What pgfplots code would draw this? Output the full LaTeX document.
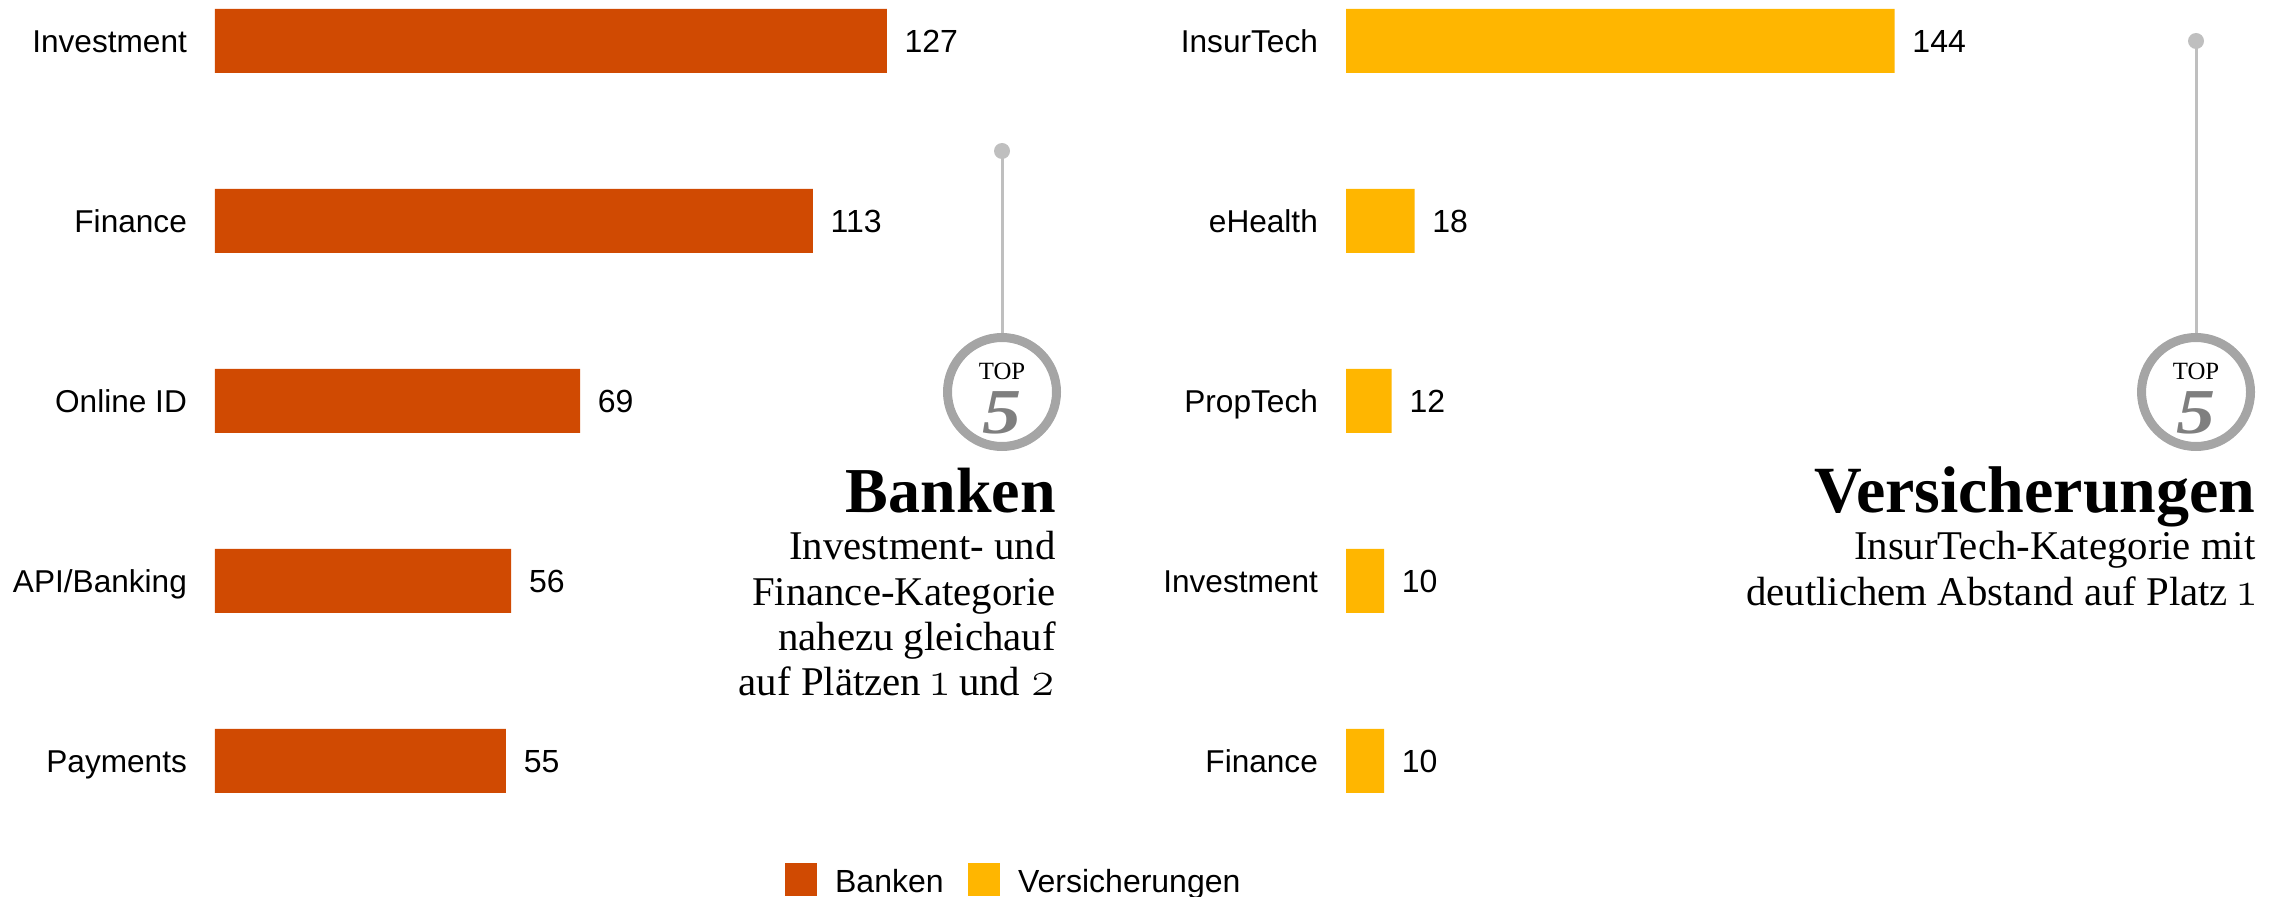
\documentclass[border=0pt]{standalone}
\usepackage{pgfplots}
\usepackage{fontspec}
\pgfplotsset{compat=1.18}
\setmainfont{Liberation Sans}
\newfontfamily\srf{Liberation Serif}
\newfontfamily\osn[Numbers=OldStyle,Scale=1.18]{Latin Modern Roman}
\definecolor{bank}{HTML}{D04A02}
\definecolor{vers}{HTML}{FFB600}
\definecolor{ringc}{HTML}{A5A5A5}
\definecolor{pinc}{HTML}{BFBFBF}
\definecolor{fivec}{HTML}{7F7F7F}
\pgfplotstableread{
y v
0 127
1 113
2 69
3 56
4 55
}\banken
\pgfplotstableread{
y v
0 144
1 18
2 12
3 10
4 10
}\versich
\pgfplotsset{
  panel/.style={
    anchor=north west, clip=false, xbar, bar width=32pt, bar shift=0pt, y=90pt,
    xmin=0, ymin=-0.2, ymax=4.2, y dir=reverse,
    axis line style={draw=none}, tick style={draw=none},
    xtick=\empty, ytick={0,1,2,3,4},
    y tick label style={font=\fontsize{15.8}{18}\selectfont, inner sep=0pt, xshift=-9.6pt, anchor=east, text height=11.4pt, text depth=0pt},
    nodes near coords,
    nodes near coords align={horizontal},
    every node near coord/.append style={font=\fontsize{16}{18}\selectfont, inner sep=0pt, xshift=8.7pt, yshift=-0.3pt, text=black, /pgf/number format/assume math mode=true},
  }
}
\newcommand{\five}{\scalebox{1.22}[1]{5}}
\begin{document}
\begin{tikzpicture}[x=0.5pt,y=0.5pt]
\path[use as bounding box] (0,0) rectangle (2285,896);
\begin{axis}[panel, at={(107.5pt,445.6pt)}, x=2.645pt, xmax=150,
  yticklabels={Investment,Finance,Online ID,API/Banking,Payments},
  legend columns=2,
  legend style={at={(0.7185,-0.1293)}, anchor=south west, draw=none, fill=none, inner sep=0pt, outer sep=0pt,
    font=\fontsize{16}{18}\selectfont,
    /tikz/every odd column/.style={column sep=7.1pt},
    /tikz/every even column/.style={column sep=10.2pt}},
  legend image code/.code={\fill[#1] (0pt,-6.5pt) rectangle (15.5pt,9.5pt);},
]
\addplot[forget plot, draw=none, fill=bank] table[x=v,y=y] {\banken};
\addlegendimage{bank}\addlegendentry{Banken}
\addlegendimage{vers}\addlegendentry{Versicherungen}
\end{axis}
\begin{axis}[panel, at={(673pt,445.6pt)}, x=1.905pt, xmax=150,
  yticklabels={InsurTech,eHealth,PropTech,Investment,Finance},
]
\addplot[forget plot, draw=none, fill=vers] table[x=v,y=y] {\versich};
\end{axis}
% left annotation
\draw[pinc, line width=1.5pt] (1002,745) -- (1002,562);
\fill[pinc] (1002,745) circle (8);
\draw[ringc, line width=4.5pt] (1002,504) circle (54.5);
\node[font=\srf\fontsize{12.4}{14}\selectfont, inner sep=0pt] at (1002,525) {TOP};
\node[font=\srf\bfseries\itshape\fontsize{32}{36}\selectfont, text=fivec, inner sep=0pt, anchor=base] at (1002,463) {\five};
\node[font=\srf\bfseries\fontsize{32}{36}\selectfont, inner sep=0pt, anchor=base east] at (1056,384) {Banken};
\node[font=\srf\fontsize{20.4}{24}\selectfont, inner sep=0pt, anchor=base east] at (1056,336.5) {Investment- und};
\node[font=\srf\fontsize{20.4}{24}\selectfont, inner sep=0pt, anchor=base east] at (1056,291) {Finance-Kategorie};
\node[font=\srf\fontsize{20.4}{24}\selectfont, inner sep=0pt, anchor=base east] at (1056,246) {nahezu gleichauf};
\node[font=\srf\fontsize{20.4}{24}\selectfont, inner sep=0pt, anchor=base east] at (1056,201) {auf Plätzen {\osn 1} und {\osn 2}};
% right annotation
\draw[pinc, line width=1.5pt] (2196,855) -- (2196,562);
\fill[pinc] (2196,855) circle (8);
\draw[ringc, line width=4.5pt] (2196,504) circle (54.5);
\node[font=\srf\fontsize{12.4}{14}\selectfont, inner sep=0pt] at (2196,525) {TOP};
\node[font=\srf\bfseries\itshape\fontsize{32}{36}\selectfont, text=fivec, inner sep=0pt, anchor=base] at (2196,463) {\five};
\node[font=\srf\bfseries\fontsize{33}{36}\selectfont, inner sep=0pt, anchor=base east] at (2256,384) {Versicherungen};
\node[font=\srf\fontsize{20.4}{24}\selectfont, inner sep=0pt, anchor=base east] at (2256,336.5) {InsurTech-Kategorie mit};
\node[font=\srf\fontsize{20.4}{24}\selectfont, inner sep=0pt, anchor=base east] at (2256,291) {deutlichem Abstand auf Platz {\osn 1}};
\end{tikzpicture}
\end{document}
